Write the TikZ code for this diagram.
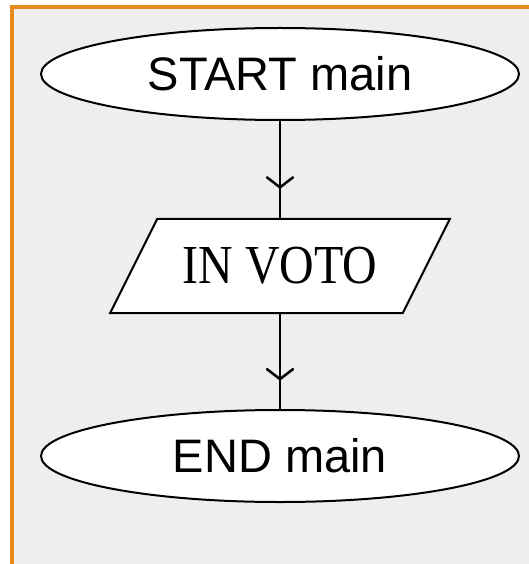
\documentclass[tikz,border=0pt]{standalone}
\usepackage{fontspec}
\setmainfont{Liberation Serif}
\setsansfont{Liberation Sans}
\usetikzlibrary{shapes.geometric,decorations.markings}
\definecolor{panelgray}{HTML}{EEEEEE}
\definecolor{frameorange}{HTML}{E8891C}
\begin{document}
\begin{tikzpicture}[x=1pt,y=-1pt,
  terminal/.style={ellipse,draw,fill=white,line width=2pt,
    minimum width=478pt,minimum height=92pt,inner sep=0pt,
    font=\sffamily\fontsize{47}{50}\selectfont},
  iobox/.style={trapezium,trapezium left angle=63.43,trapezium right angle=116.57,
    draw,fill=white,line width=2pt,
    inner xsep=25.5pt,inner ysep=28.5pt,
    font=\rmfamily\fontsize{55}{58}\selectfont},
  flow/.style={line width=2pt,postaction={decorate},
    decoration={markings,mark=at position 0.685 with
      {\draw[line width=2.5pt,line cap=round,line join=round] (-10pt,-13pt) -- (0pt,0pt) -- (-10pt,13pt);}}}
]
\useasboundingbox (0,0) rectangle (529,564);
% panel and its frame
\fill[panelgray] (12,7) rectangle (529,564);
\draw[frameorange,line width=4pt] (12,564) -- (12,7) -- (529,7);

% flowchart
\node[terminal] (start) at (280,74) {START main};
\node[iobox] (in) at (280,266) {\scalebox{0.87}[1]{IN VOTO}};
\node[terminal] (end) at (280,456) {END main};

\draw[flow] (start) -- (in);
\draw[flow] (in) -- (end);
\end{tikzpicture}
\end{document}
